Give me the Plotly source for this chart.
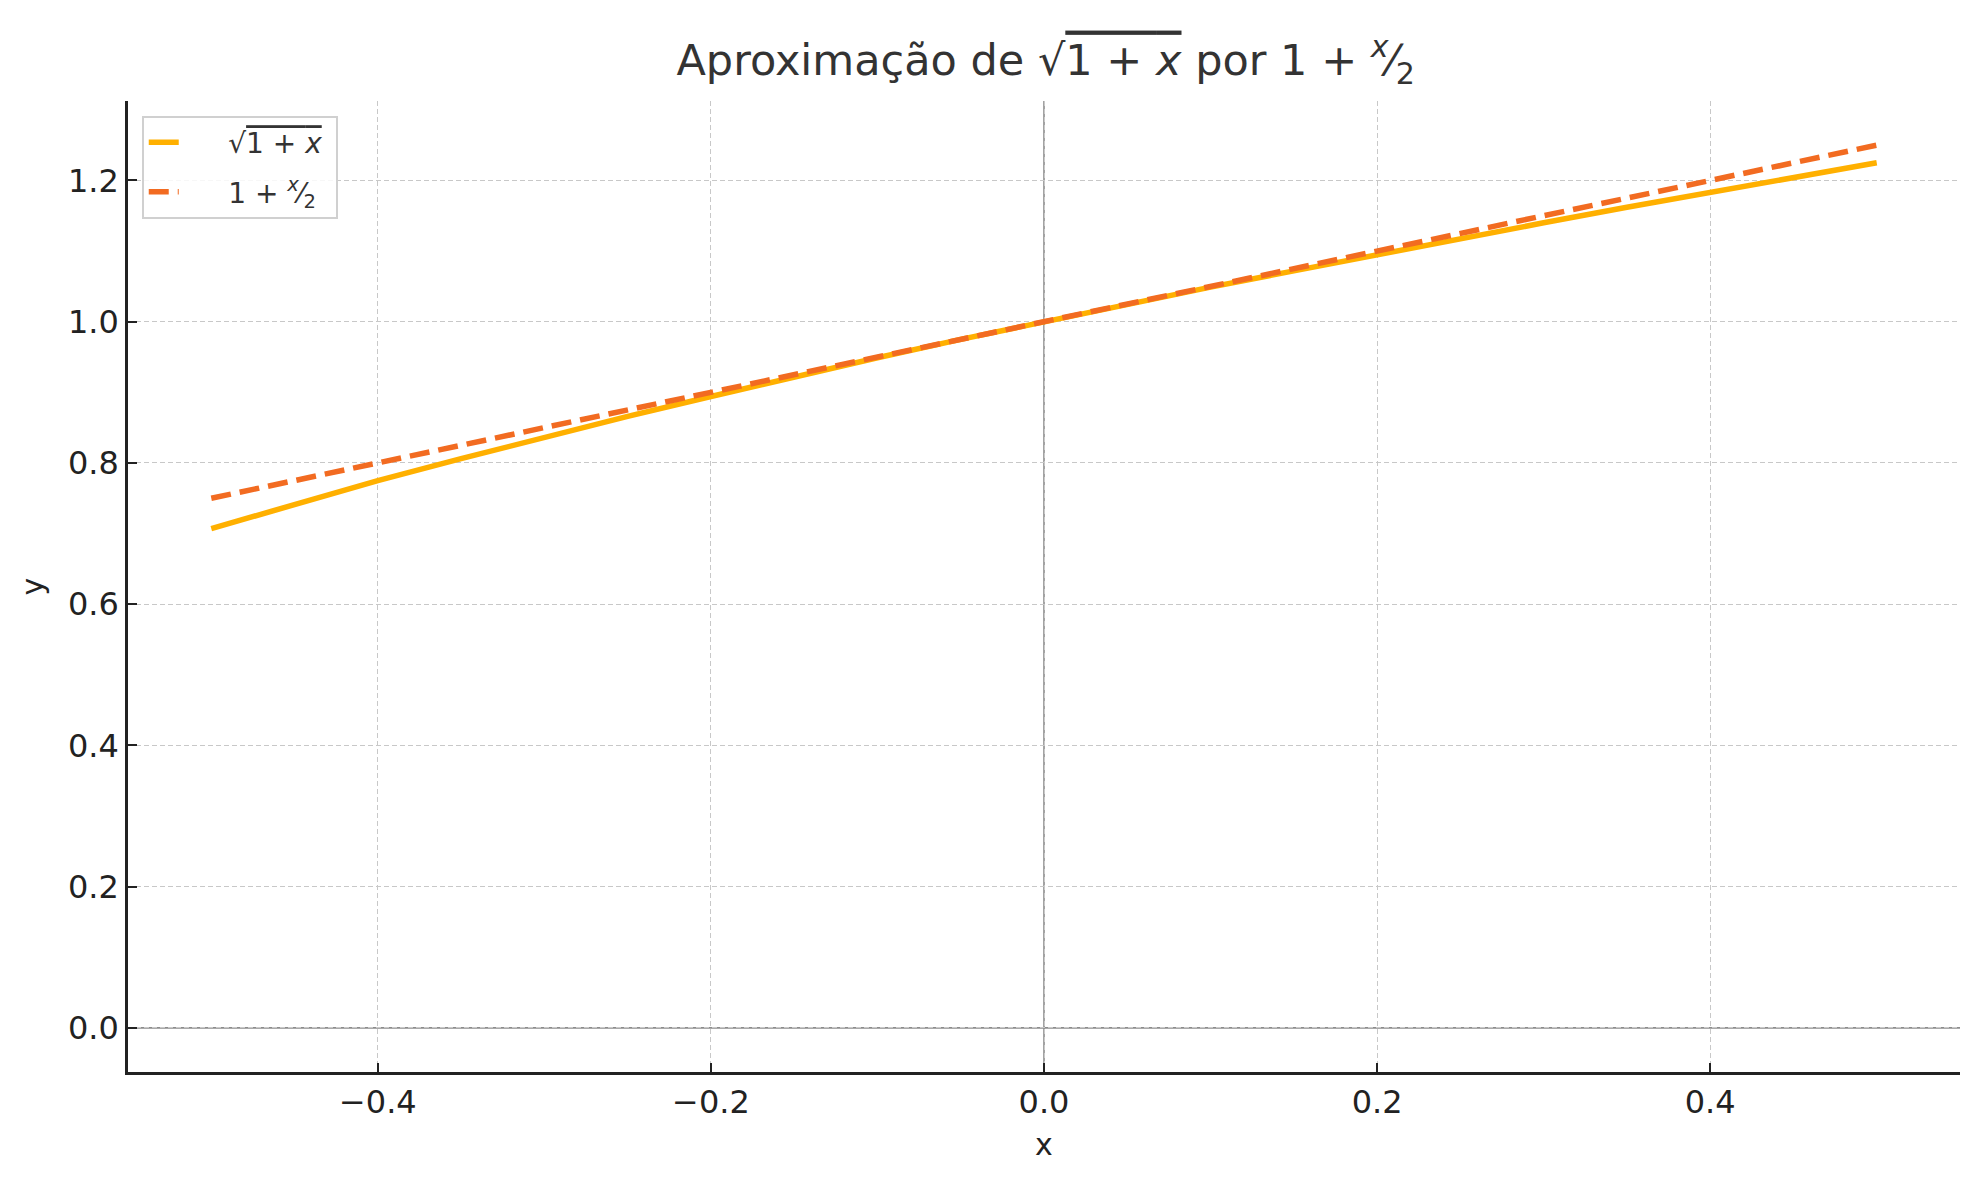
import plotly.graph_objects as go

# valores
x_vals = [-0.50, -0.45, -0.40, -0.35, -0.30, -0.25, -0.20, -0.15, -0.10, -0.05, 0.00,
          0.05, 0.10, 0.15, 0.20, 0.25, 0.30, 0.35, 0.40, 0.45, 0.50]
sqrt_vals = [0.707, 0.742, 0.775, 0.806, 0.837, 0.866, 0.894, 0.922, 0.949, 0.975, 1.000,
             1.025, 1.049, 1.072, 1.095, 1.118, 1.140, 1.162, 1.183, 1.204, 1.225]
approx_vals = [0.750, 0.775, 0.800, 0.825, 0.850, 0.875, 0.900, 0.925, 0.950, 0.975, 1.000,
               1.025, 1.050, 1.075, 1.100, 1.125, 1.150, 1.175, 1.200, 1.225, 1.250]

x_ticks = [-0.4, -0.2, 0.0, 0.2, 0.4]
x_ticklabels = ["\u22120.4", "\u22120.2", "0.0", "0.2", "0.4"]
y_ticks = [0.0, 0.2, 0.4, 0.6, 0.8, 1.0, 1.2]

sqrt_label = "\u221a<span style='text-decoration:overline'>1 + <i>x</i></span>"
approx_label = "1 + <sup><i>x</i></sup>\u2044<sub>2</sub>"
pad = "\u00a0" * 5

fig = go.Figure()

fig.add_trace(go.Scatter(
    x=x_vals, y=sqrt_vals, mode="lines", name=pad + sqrt_label + "\u00a0", legendgroup="a",
    line=dict(color="#FFB000", width=5.5)
))
fig.add_trace(go.Scatter(
    x=x_vals, y=approx_vals, mode="lines", name=pad + approx_label, legendgroup="b",
    line=dict(color="#F26B21", width=5.5, dash="20px,9px")
))

# linhas de referência em x=0 e y=0
fig.add_hline(y=0, line=dict(color="#8c8c8c", width=1.6), layer="below")
fig.add_vline(x=0, line=dict(color="#8c8c8c", width=1.6), layer="below")

# a página tem 8px de margem no body
fig.update_layout(
    width=1971, height=1171,
    paper_bgcolor="white", plot_bgcolor="white",
    font=dict(family="DejaVu Sans", size=32, color="#222222"),
    margin=dict(l=120, r=19, t=93, b=107),
    title=dict(
        text="Aproximação de " + sqrt_label + " por " + approx_label,
        x=0.5265, xanchor="center", y=0.956, yanchor="middle",
        font=dict(size=43, color="#333333")
    ),
    legend=dict(
        x=0.0075, y=0.985, xanchor="left", yanchor="top",
        bgcolor="rgba(255,255,255,0.85)", bordercolor="#d0d0d0", borderwidth=2,
        font=dict(size=28, color="#333333"),
        tracegroupgap=10
    ),
    showlegend=True,
)

fig.update_xaxes(
    range=[-0.55, 0.55],
    tickvals=x_ticks, ticktext=x_ticklabels,
    showgrid=True, gridcolor="#c8c8c8", griddash="5px,3px", gridwidth=1.2,
    showline=True, linecolor="#222222", linewidth=2.5,
    ticks="inside", ticklen=9, tickwidth=2, tickcolor="#222222",
    zeroline=False,
    title=dict(text="x", font=dict(size=30), standoff=14),
)
fig.update_yaxes(
    range=[-0.0625, 1.3125],
    tickvals=y_ticks, tickformat=".1f",
    showgrid=True, gridcolor="#c8c8c8", griddash="5px,3px", gridwidth=1.2,
    showline=True, linecolor="#222222", linewidth=2.5,
    ticks="inside", ticklen=9, tickwidth=2, tickcolor="#222222",
    zeroline=False,
    title=dict(text="y", font=dict(size=30), standoff=16),
)

fig.write_html("out.html")
